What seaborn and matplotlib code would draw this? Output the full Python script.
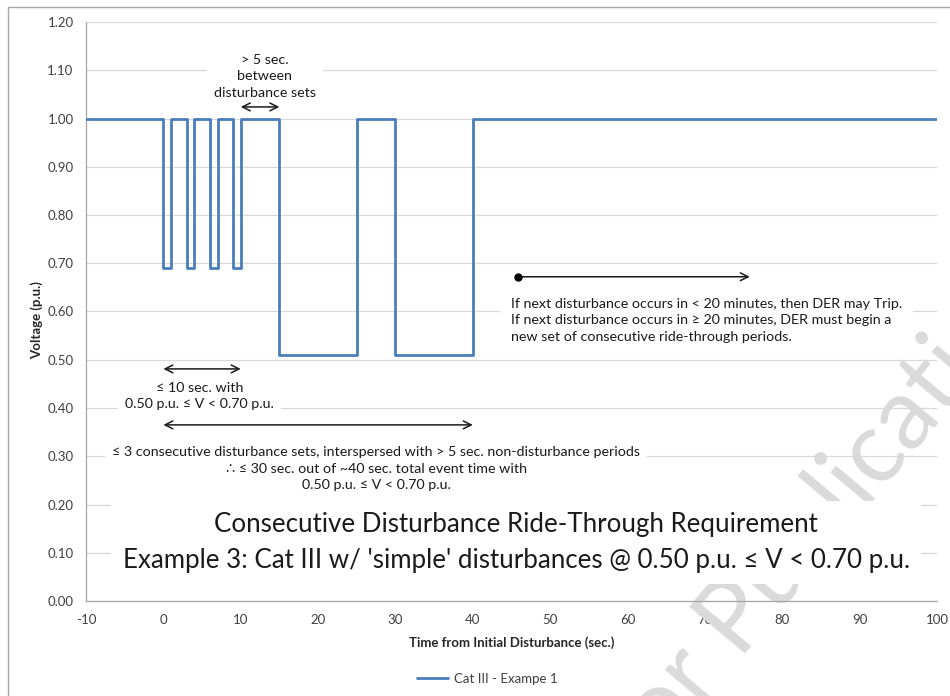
import matplotlib
matplotlib.use("Agg")
import matplotlib.pyplot as plt
import seaborn as sns
import pandas as pd
import numpy as np
from matplotlib.ticker import MultipleLocator, FormatStrFormatter
from matplotlib.patches import Rectangle

# ---- data ----
time_s = [-10, 0, 1, 3, 4, 6, 7, 9, 10, 15, 25, 30, 40, 100]
voltage_pu = [1.00, 0.69, 1.00, 0.69, 1.00, 0.69, 1.00, 0.69, 1.00, 0.51, 1.00, 0.51, 1.00, 1.00]
series_name = "Cat III - Exampe 1"
x_label = "Time from Initial Disturbance (sec.)"
y_label = "Voltage (p.u.)"
title_text = ("Consecutive Disturbance Ride-Through Requirement\n"
              "Example 3: Cat III w/ 'simple' disturbances @ 0.50 p.u. \u2264 V < 0.70 p.u.")
note_gap = "> 5 sec.\nbetween\ndisturbance sets"
note_set = "\u2264 10 sec. with\n0.50 p.u. \u2264 V < 0.70 p.u."
note_total = ("\u2264 3 consecutive disturbance sets, interspersed with > 5 sec. non-disturbance periods\n"
              "\u2234 \u2264 30 sec. out of ~40 sec. total event time with\n"
              "0.50 p.u. \u2264 V < 0.70 p.u.")
note_next = ("If next disturbance occurs in < 20 minutes, then DER may Trip.\n"
             "If next disturbance occurs in \u2265 20 minutes, DER must begin a\n"
             "new set of consecutive ride-through periods.")
watermark = "Not for Publication"

df = pd.DataFrame({"t": time_s, "v": voltage_pu, "series": series_name})

sns.set_theme(style="white")
plt.rcParams["font.family"] = ["Lato", "DejaVu Sans"]
plt.rcParams["axes.unicode_minus"] = False

fig = plt.figure(figsize=(9.5, 6.96), dpi=100)
ax = fig.add_axes([86/950, 1-601/696, (937-86)/950, (601-22)/696])

# figure frame (left/top visible)
fig.patches.append(Rectangle((8/950, -0.1), 1.2, 1 - 7/696 + 0.1, transform=fig.transFigure,
                             fill=False, edgecolor="#a6a6a6", linewidth=1.0, zorder=0))

# watermark (above grid, below text boxes)
WM_FS = 72
WM_ANG = 50
wm = ax.text(0, 0, watermark, fontsize=WM_FS, color="#dadada", rotation=WM_ANG,
             rotation_mode="anchor", ha="left", va="baseline", zorder=2,
             transform=fig.transFigure, clip_on=False)
fig.canvas.draw()
r = fig.canvas.get_renderer()
tmp = fig.text(0, 0, "Not for ", fontsize=WM_FS)
w_pref = tmp.get_window_extent(r).width
tmp.remove()
ang = np.deg2rad(WM_ANG)
px0, py0 = 740, 696 - 660
wm.set_position(((px0 - w_pref*np.cos(ang))/950, (py0 - w_pref*np.sin(ang))/696))

sns.lineplot(data=df, x="t", y="v", hue="series", palette=["#4a7ebb"], drawstyle="steps-post",
             linewidth=2.0, ax=ax, legend=True, zorder=3, sort=False)

ax.set_xlim(-10, 100)
ax.set_ylim(0, 1.2)
ax.xaxis.set_major_locator(MultipleLocator(10))
ax.xaxis.set_minor_locator(MultipleLocator(2))
ax.yaxis.set_major_locator(MultipleLocator(0.1))
ax.yaxis.set_major_formatter(FormatStrFormatter("%.2f"))
ax.grid(axis="y", color="#d9d9d9", linewidth=0.9, zorder=0)
ax.set_axisbelow(True)
for s in ["top", "right"]:
    ax.spines[s].set_visible(False)
for s in ["left", "bottom"]:
    ax.spines[s].set_color("#a6a6a6")
    ax.spines[s].set_linewidth(0.9)
ax.tick_params(axis="x", which="major", direction="inout", length=8, width=0.9, color="#a6a6a6",
               labelsize=9.5, labelcolor="#404040", pad=5)
ax.tick_params(axis="x", which="minor", direction="out", length=4, width=0.9, color="#a6a6a6")
ax.tick_params(axis="y", which="major", direction="out", length=4, width=0.9, color="#a6a6a6",
               labelsize=9.5, labelcolor="#404040", pad=5)
ax.set_xlabel(x_label, fontsize=9.5, fontweight="bold", color="#262626", labelpad=8)
ax.set_ylabel(y_label, fontsize=9.5, fontweight="bold", color="#262626")
ax.yaxis.set_label_coords((43-86)/851, (601-320)/579)

box = dict(facecolor="white", edgecolor="none", pad=5)
tc = "#1a1a1a"
NFS = 10.3
ax.text(13.1, 1.088, note_gap, ha="center", va="center", fontsize=NFS, linespacing=1.45,
        color=tc, bbox=box, zorder=4)
ax.text(4.7, 0.425, note_set, ha="center", va="center", fontsize=NFS, linespacing=1.45,
        color=tc, bbox=box, zorder=4)
ax.text(27.5, 0.2736, note_total, ha="center", va="center", fontsize=NFS, linespacing=1.45,
        color=tc, bbox=box, zorder=4)
ax.text(44.9, 0.582, note_next, ha="left", va="center", fontsize=NFS, linespacing=1.45,
        color=tc, bbox=dict(facecolor="white", edgecolor="none", pad=8), zorder=4)
ax.text(45.6, 0.122, title_text, ha="center", va="center", fontsize=18.6, linespacing=1.55,
        color=tc, bbox=dict(facecolor="white", edgecolor="none", pad=8), zorder=4)

arr = dict(arrowstyle="<->", color="#1a1a1a", lw=1.1, mutation_scale=14, shrinkA=0, shrinkB=0)
ax.annotate("", xy=(15, 1.024), xytext=(10, 1.024), arrowprops=arr, zorder=5)
ax.annotate("", xy=(10, 0.481), xytext=(0, 0.481), arrowprops=arr, zorder=5)
ax.annotate("", xy=(40, 0.365), xytext=(0, 0.365), arrowprops=arr, zorder=5)
ax.annotate("", xy=(75.8, 0.672), xytext=(45.8, 0.672),
            arrowprops=dict(arrowstyle="->", color="#1a1a1a", lw=1.1, mutation_scale=14,
                            shrinkA=0, shrinkB=0), zorder=5)
ax.plot([45.8], [0.672], "o", color="black", markersize=5, zorder=6)

leg = ax.get_legend()
leg.remove()
handles, labels = ax.get_legend_handles_labels()
fig.legend(handles, labels, loc="center", bbox_to_anchor=(487/950, 1-679/696), frameon=False,
           fontsize=9.5, handlelength=2.4, handletextpad=0.4)
for t in fig.legends[0].get_texts():
    t.set_color("#404040")

fig.savefig("out.png", dpi=100)
